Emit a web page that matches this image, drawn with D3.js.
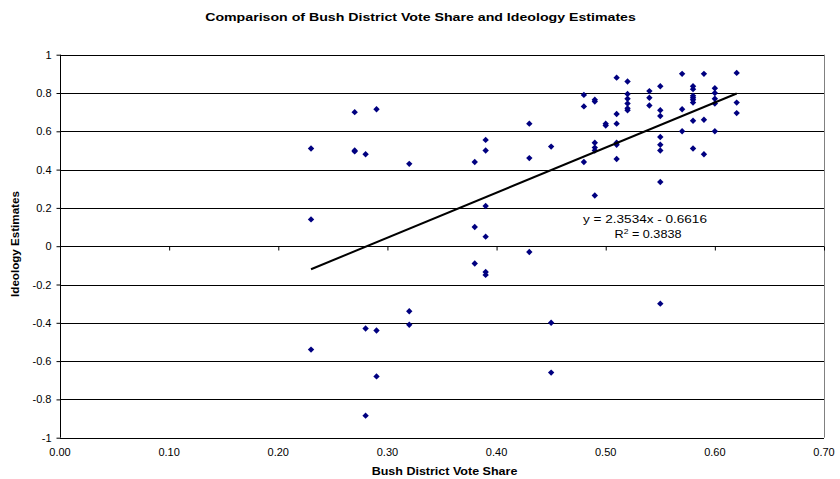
<!DOCTYPE html>
<html>
<head>
<meta charset="utf-8">
<script src="https://cdn.jsdelivr.net/npm/d3@7"></script>
<style>
  body { margin: 0; background: #fff; }
  svg { display: block; font-family: "Liberation Sans", Arial, sans-serif; }
</style>
</head>
<body>
<div id="chart"></div>
<script>
// vote share (x) and ideology estimate (y) for each district
const voteShare = [
  0.23, 0.23, 0.23,
  0.27, 0.27, 0.27,
  0.28, 0.28, 0.28,
  0.29, 0.29, 0.29,
  0.32, 0.32, 0.32,
  0.38, 0.38, 0.38,
  0.39, 0.39, 0.39, 0.39, 0.39, 0.39,
  0.43, 0.43, 0.43,
  0.45, 0.45, 0.45,
  0.48, 0.48, 0.48,
  0.49, 0.49, 0.49, 0.49, 0.49, 0.49,
  0.50, 0.50,
  0.51, 0.51, 0.51, 0.51, 0.51, 0.51,
  0.52, 0.52, 0.52, 0.52, 0.52, 0.52,
  0.54, 0.54, 0.54,
  0.55, 0.55, 0.55, 0.55, 0.55, 0.55, 0.55, 0.55,
  0.57, 0.57, 0.57,
  0.58, 0.58, 0.58, 0.58, 0.58, 0.58, 0.58, 0.58,
  0.59, 0.59, 0.59,
  0.60, 0.60, 0.60, 0.60, 0.60,
  0.62, 0.62, 0.62
];
const ideology = [
  0.51, 0.14, -0.54,
  0.70, 0.50, 0.495,
  0.48, -0.43, -0.885,
  0.715, -0.44, -0.68,
  0.43, -0.34, -0.41,
  0.44, 0.10, -0.09,
  0.555, 0.50, 0.21, 0.05, -0.135, -0.15,
  0.64, 0.46, -0.03,
  0.52, -0.40, -0.66,
  0.79, 0.73, 0.44,
  0.765, 0.755, 0.54, 0.515, 0.50, 0.265,
  0.64, 0.63,
  0.88, 0.69, 0.64, 0.54, 0.53, 0.455,
  0.86, 0.795, 0.77, 0.745, 0.72, 0.71,
  0.81, 0.775, 0.735,
  0.835, 0.71, 0.68, 0.57, 0.53, 0.50, 0.335, -0.30,
  0.90, 0.715, 0.60,
  0.835, 0.82, 0.785, 0.775, 0.765, 0.75, 0.655, 0.51,
  0.90, 0.66, 0.48,
  0.825, 0.80, 0.77, 0.745, 0.60,
  0.905, 0.75, 0.695
];
const xTicks = [0, 0.1, 0.2, 0.3, 0.4, 0.5, 0.6, 0.7];
const yTicks = [-1, -0.8, -0.6, -0.4, -0.2, 0, 0.2, 0.4, 0.6, 0.8, 1];
const trendSlope = 2.3534;
const trendIntercept = -0.6616;
const trendRange = [0.23, 0.62];
const trendLabel = ["y = 2.3534x - 0.6616", "R", "2", " = 0.3838"];

const W = 840, H = 479;
const plotLeft = 60, plotRight = 824, plotTop = 54.7, plotBottom = 437.7;

const svg = d3.select("#chart").append("svg")
  .attr("width", W).attr("height", H);

const x = d3.scaleLinear().domain([0, 0.7]).range([plotLeft, plotRight]);
const y = d3.scaleLinear().domain([-1, 1]).range([plotBottom, plotTop]);

// the source chart's text is a bit wider than Arial at the same height,
// so stretch a text horizontally around its anchor to a given width
function stretchTo(sel, cx, cy, width, extra) {
  const w = sel.node().getComputedTextLength();
  const k = width / w;
  sel.attr("transform", `translate(${cx},${cy}) ${extra || ""} scale(${k},1)`);
}

// title
const title = svg.append("text")
  .attr("text-anchor", "middle")
  .style("font-size", "11.5px").style("font-weight", "bold")
  .text("Comparison of Bush District Vote Share and Ideology Estimates");
stretchTo(title, 420.5, 21, 431);

// gridlines
svg.append("g")
  .selectAll("line")
  .data(yTicks)
  .enter().append("line")
  .attr("x1", plotLeft).attr("x2", plotRight)
  .attr("y1", d => Math.round(y(d)) + 0.5).attr("y2", d => Math.round(y(d)) + 0.5)
  .attr("stroke", "#000").attr("stroke-width", 1);

// plot border (right side)
svg.append("line")
  .attr("x1", Math.round(plotRight) + 0.5).attr("x2", Math.round(plotRight) + 0.5)
  .attr("y1", plotTop).attr("y2", plotBottom)
  .attr("stroke", "#808080");

// y axis
svg.append("g")
  .attr("transform", `translate(${Math.round(plotLeft) + 0.5},0)`)
  .call(d3.axisLeft(y).tickValues(yTicks).tickSize(4).tickPadding(5)
    .tickFormat(d => String(+d.toFixed(1))))
  .call(g => g.select(".domain").attr("d", `M0,${y(1)}V${y(-1)}`))
  .call(g => g.selectAll("text").style("font-size", "11px").style("font-family", "Liberation Sans, Arial, sans-serif"));

// x axis sits at y = 0, labels at bottom
svg.append("g")
  .attr("transform", `translate(0,${Math.round(y(0)) + 0.5})`)
  .call(d3.axisBottom(x).tickValues(xTicks).tickSize(4).tickFormat(""))
  .call(g => g.select(".domain").attr("d", `M${plotLeft},0H${plotRight}`));

svg.append("g")
  .selectAll("text")
  .data(xTicks)
  .enter().append("text")
  .attr("x", d => x(d)).attr("y", 456)
  .attr("text-anchor", "middle")
  .style("font-size", "11px")
  .text(d => d3.format(".2f")(d));

// axis titles
const xTitle = svg.append("text")
  .attr("text-anchor", "middle")
  .style("font-size", "11px").style("font-weight", "bold")
  .text("Bush District Vote Share");
stretchTo(xTitle, 444.5, 475, 146);

const yTitle = svg.append("text")
  .attr("text-anchor", "middle")
  .style("font-size", "11px").style("font-weight", "bold")
  .text("Ideology Estimates");
stretchTo(yTitle, 19, 244, 106, "rotate(-90)");

// points
const pts = voteShare.map((v, i) => ({ x: v, y: ideology[i] }));
svg.append("g")
  .selectAll("path")
  .data(pts)
  .enter().append("path")
  .attr("d", d3.symbol(d3.symbolDiamond2, 26))
  .attr("transform", d => `translate(${x(d.x)},${y(d.y)})`)
  .attr("fill", "#000080");

// trend line
svg.append("line")
  .attr("x1", x(trendRange[0])).attr("y1", y(trendSlope * trendRange[0] + trendIntercept))
  .attr("x2", x(trendRange[1])).attr("y2", y(trendSlope * trendRange[1] + trendIntercept))
  .attr("stroke", "#000").attr("stroke-width", 2);

// equation label
const eq = svg.append("text")
  .attr("text-anchor", "middle")
  .style("font-size", "11px")
  .text(trendLabel[0]);
stretchTo(eq, 645, 223, 124);

const r2 = svg.append("text")
  .attr("text-anchor", "middle")
  .style("font-size", "11px");
r2.append("tspan").text(trendLabel[1]);
r2.append("tspan").attr("dy", -4).style("font-size", "7.5px").text(trendLabel[2]);
r2.append("tspan").attr("dy", 4).text(trendLabel[3]);
stretchTo(r2, 648, 238, 67);
</script>
</body>
</html>
